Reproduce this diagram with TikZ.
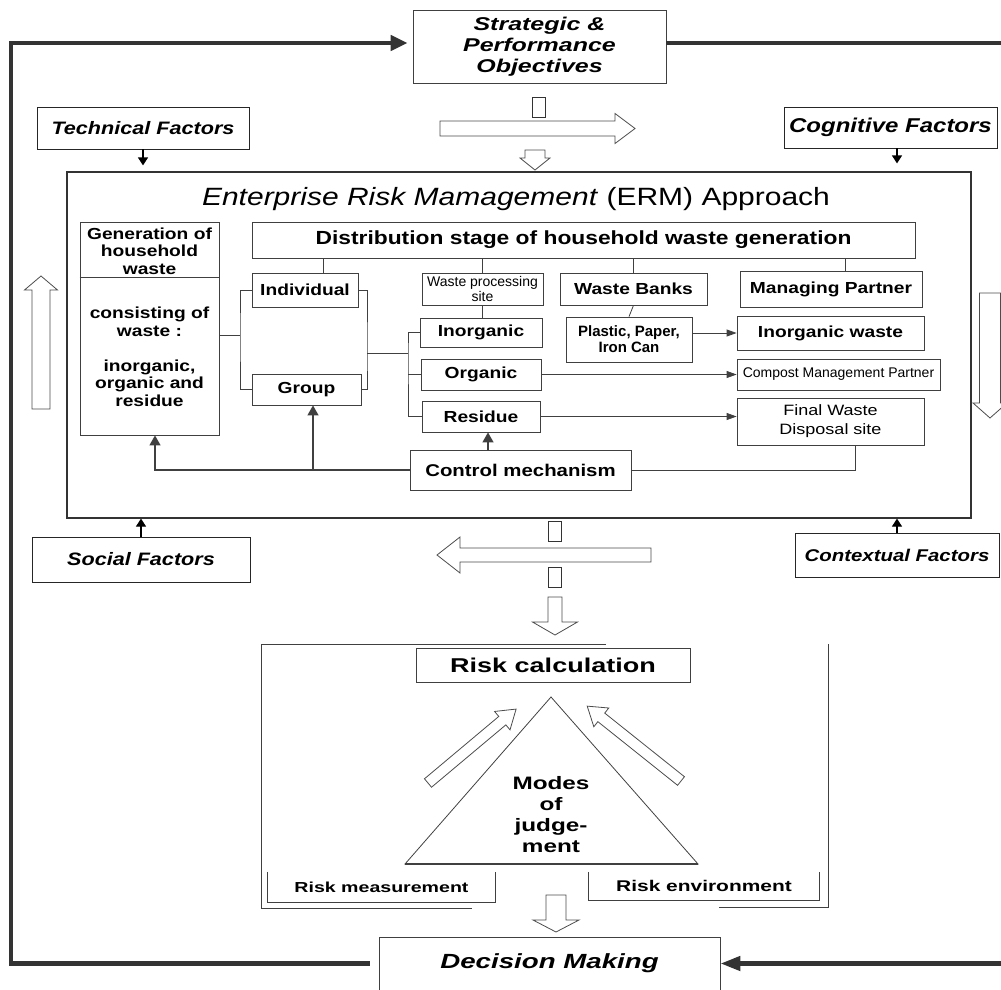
\documentclass[tikz,border=0pt]{standalone}
\usepackage{fontspec}
\setmainfont{Liberation Sans}[FakeStretch=1.2]
\newfontfamily\widefont{Liberation Sans}[FakeStretch=1.35]
\newfontfamily\plainfont{Liberation Sans}
\usetikzlibrary{arrows.meta}

% hollow block arrow along +x: length, half shaft, half head, head length
\newcommand{\hollowarrow}[4]{%
  \draw[blockarrow] (0,-#2) -- ({#1-#4},-#2) -- ({#1-#4},-#3) -- (#1,0)
    -- ({#1-#4},#3) -- ({#1-#4},#2) -- (0,#2) -- cycle;}

\tikzset{
  box/.style={draw=black!75, line width=0.8pt, fill=white, inner sep=1pt, align=center},
  factor/.style={box, draw=black!85, font=\bfseries\itshape\fontsize{18}{21}\selectfont},
  stage/.style={box, font=\bfseries\fontsize{16}{18}\selectfont},
  link/.style={draw=black!75, line width=0.8pt},
  linkarrow/.style={link, -{Triangle[length=10pt,width=7pt]}},
  ctrlarrow/.style={draw=black!75, line width=1.2pt, -{Triangle[length=10pt,width=11pt]}},
  factorarrow/.style={draw=black, line width=1.2pt, -{Triangle[length=8pt,width=10pt]}},
  loopline/.style={draw=black!80, line width=4.5pt},
  blockarrow/.style={draw=black!70, line width=0.8pt, fill=white},
  glyphbox/.style={draw=black!80, line width=0.8pt}
}

\begin{document}
\begin{tikzpicture}[x=1pt, y=-1pt]
  \useasboundingbox (0,0) rectangle (1001,990);

  % objectives and the four factors
  \node[box, font=\widefont\bfseries\itshape\fontsize{18.5}{21}\selectfont,
    minimum width=253pt, minimum height=73pt] (strat) at (539.5,46.5) {Strategic \&\\Performance\\Objectives};
  \node[factor, minimum width=212pt, minimum height=42pt] (tech) at (143,128) {Technical Factors};
  \node[factor, font=\bfseries\itshape\fontsize{20}{22}\selectfont,
    minimum width=213pt, minimum height=41pt] (cogn) at (890.5,127.5) {Cognitive Factors};
  \node[factor, minimum width=218pt, minimum height=45pt] (social) at (141,559.5) {Social Factors};
  \node[factor, font=\bfseries\itshape\fontsize{17}{20}\selectfont,
    minimum width=204pt, minimum height=44pt] (context) at (897,555) {Contextual Factors};

  % ERM frame
  \node[draw=black!80, line width=1.2pt, minimum width=904pt, minimum height=346pt] (erm) at (519,345) {};
  \node[font=\fontsize{25}{28}\selectfont] (ermtitle) at (516,199)
    {\textit{Enterprise Risk Mamagement} (ERM) Approach};

  \node[box, minimum width=139pt, minimum height=213pt] (gen) at (149.5,328.5) {};
  \node[font=\bfseries\fontsize{16}{17.5}\selectfont, align=center] (gentop) at (149.5,251)
    {Generation of\\household\\waste};
  \node[font=\bfseries\fontsize{16}{17.5}\selectfont, align=center] (genbot) at (149.5,357)
    {consisting of\\waste :\\[17.5pt]inorganic,\\organic and\\residue};
  \draw[link] (gen.west |- 0,277) -- (gen.east |- 0,277);

  \node[box, font=\bfseries\fontsize{19}{21}\selectfont, minimum width=663pt, minimum height=36pt] (dist)
    at (583.5,240) {Distribution stage of household waste generation};
  \node[stage, minimum width=106pt, minimum height=34pt] (indiv) at (305,290) {Individual};
  \node[stage, minimum width=109pt, minimum height=31pt] (group) at (306.5,389.5) {Group};
  \node[box, font=\plainfont\fontsize{14}{14.5}\selectfont, minimum width=121pt, minimum height=32pt] (wps)
    at (482.5,289) {Waste processing\\site};
  \node[stage, minimum width=147pt, minimum height=32pt] (wbank) at (633.5,289) {Waste Banks};
  \node[stage, minimum width=182pt, minimum height=36pt] (mpart) at (831,289) {Managing Partner};
  \node[stage, minimum width=122pt, minimum height=29pt] (inorg) at (481,332.5) {Inorganic};
  \node[stage, minimum width=120pt, minimum height=31pt] (org) at (481,374.5) {Organic};
  \node[stage, minimum width=118pt, minimum height=31pt] (resid) at (481,416.5) {Residue};
  \node[box, font=\plainfont\bfseries\fontsize{15}{16}\selectfont, minimum width=126pt, minimum height=45pt] (plastic)
    at (629,339.5) {Plastic, Paper,\\Iron Can};
  \node[stage, minimum width=187pt, minimum height=34pt] (inwaste) at (830.5,333) {Inorganic waste};
  \node[box, font=\plainfont\fontsize{14}{16}\selectfont, minimum width=203pt, minimum height=31pt] (compost)
    at (838.5,374.5) {Compost Management Partner};
  \node[box, font=\fontsize{15}{19}\selectfont, minimum width=187pt, minimum height=47pt] (final)
    at (830.5,421.5) {Final Waste\\Disposal site};
  \node[stage, font=\bfseries\fontsize{17}{19}\selectfont, minimum width=221pt, minimum height=40pt] (control)
    at (520.5,470) {Control mechanism};

  % distribution links
  \draw[link] ([xshift=18pt]indiv.north) -- ([xshift=18pt]indiv.north |- dist.south);
  \draw[link] (wps.north) -- (wps.north |- dist.south);
  \draw[link] (wbank.north) -- (wbank.north |- dist.south);
  \draw[link] ([xshift=14pt]mpart.north) -- ([xshift=14pt]mpart.north |- dist.south);
  \draw[link] (wps.south) -- (wps.south |- inorg.north);
  \draw[link] (wbank.south) -- (plastic.north);
  \draw[linkarrow] (plastic.east |- inwaste.west) -- (inwaste.west);
  \draw[linkarrow] (org.east) -- (compost.west);
  \draw[linkarrow] (resid.east) -- (resid.east -| final.west);

  % brackets
  \coordinate (gensplit) at (240,335);
  \coordinate (unitjoin) at (367,353);
  \coordinate (typesplit) at (408,353);
  \draw[link] (gen.east |- gensplit) -- (gensplit);
  \draw[link] (indiv.west) -| (gensplit) |- (group.west);
  \draw[link] (indiv.east) -| (unitjoin) |- (group.east);
  \draw[link] (unitjoin) -- (typesplit);
  \draw[link] (inorg.west) -| (typesplit) |- (resid.west);
  \draw[link] (typesplit |- org.west) -- (org.west);

  % control mechanism feedback
  \draw[ctrlarrow] (control.west) -| ([xshift=5.5pt]gen.south);
  \draw[ctrlarrow] ([xshift=6.5pt]group.south |- control.west) -- ([xshift=6.5pt]group.south);
  \draw[ctrlarrow] ([xshift=7pt]resid.south |- control.north) -- ([xshift=7pt]resid.south);
  \draw[link] (control.east) -| ([xshift=24.5pt]final.south);

  % factor arrows
  \draw[factorarrow, shorten >=6pt] (tech.south) -- (tech.south |- erm.north);
  \draw[factorarrow, shorten >=8pt] ([xshift=6.5pt]cogn.south) -- ([xshift=6.5pt]cogn.south |- erm.north);
  \draw[factorarrow] (social.north) -- (social.north |- erm.south);
  \draw[factorarrow] (context.north) -- (context.north |- erm.south);

  % risk part
  \draw[link] (606,644) -- (261,644) -- (261,908) -- (472,908);
  \draw[link] (828,644) -- (828,907) -- (719,907);
  \node[box, font=\widefont\bfseries\fontsize{20}{22}\selectfont, minimum width=274pt, minimum height=34pt] (riskcalc)
    at (553,665) {Risk calculation};
  \draw[link] (551,697) -- (698,864) -- (405,864) -- cycle;
  \draw[draw=black!75, line width=2pt] (405,864) -- (698,864);
  \node[font=\widefont\bfseries\fontsize{18}{21}\selectfont, align=center] (modes) at (551,815)
    {Modes\\of\\judge-\\ment};
  \node[font=\widefont\bfseries\fontsize{14.5}{16}\selectfont, minimum width=227pt, minimum height=30pt] (rmeas)
    at (381.5,887) {Risk measurement};
  \draw[link] (rmeas.north west) -- (rmeas.south west) -- (rmeas.south east) -- (rmeas.north east);
  \node[font=\widefont\bfseries\fontsize{15.5}{17}\selectfont, minimum width=230pt, minimum height=28pt] (renv)
    at (704,886) {Risk environment};
  \draw[link] (renv.north west) -- (renv.south west) -- (renv.south east) -- (renv.north east);
  \node[box, font=\widefont\bfseries\itshape\fontsize{20.5}{23}\selectfont, minimum width=341pt, minimum height=53pt] (decision)
    at (549.5,963.5) {Decision Making};

  % hollow block arrows
  \foreach \ax/\ay/\ang/\len/\sh/\hh/\hl in {440/128.5/0/195/7.5/15/20, 535/150/-90/20/10/15/12,
      41/409/90/133/9/16.5/14, 990/293/-90/125/10.5/17/15, 651/555/180/214/7/18/23,
      555/597/-90/38/7/22.5/13, 556/895/-90/37/10/23/12, 428/783/40/115/5.5/12/18,
      681/781/141.4/120/5.5/12/18}
  {
    \begin{scope}[shift={(\ax,\ay)}, rotate=\ang]
      \hollowarrow{\len}{\sh}{\hh}{\hl}
    \end{scope}
  }
  \foreach \gx/\gy in {538.5/107, 555/531, 555/577}
    \draw[glyphbox] ({\gx-6.5},{\gy-10}) rectangle ++(13,20);

  % decision loop
  \coordinate (loopcorner) at (11,963.5);
  \coordinate (rtop) at (1001,43);
  \coordinate (rbot) at (1001,963.5);
  \draw[loopline, -{Triangle[length=17pt,width=15pt]}, shorten <=9pt, shorten >=5pt]
    (decision.west) -- (loopcorner) |- ([yshift=3.5pt]strat.west);
  \draw[loopline] ([yshift=3.5pt]strat.east) -- (rtop);
  \draw[loopline, -{Triangle[length=20pt,width=14pt]}] (rbot) -- (decision.east);
\end{tikzpicture}
\end{document}
